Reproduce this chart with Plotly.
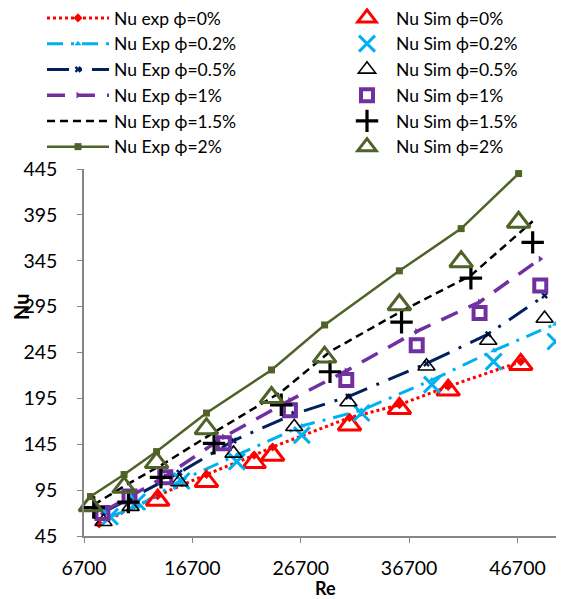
import plotly.graph_objects as go

# ---- data ----
re_0 = [8100, 13500, 18000, 22400, 24100, 31200, 35800, 40300, 47000]
nu_exp_0 = [58, 89, 112, 133, 142, 174, 188, 208, 235]
nu_sim_0 = [44.5, 84, 104.5, 125, 133, 166, 184, 204, 232]

re_02 = [9100, 11600, 15700, 20800, 26800, 32300, 38800, 44500, 50200]
nu_exp_02 = [66, 77, 106, 133, 165, 182, 215, 247, 276]
nu_sim_02 = [66, 82, 105, 126, 155, 179, 210, 235, 257]

re_05 = [8500, 11000, 15500, 20500, 26100, 31100, 38300, 44000, 49200]
nu_exp_05 = [71, 86, 114, 149, 178, 197, 233, 265, 307]
nu_sim_05 = [60.5, 77, 104, 135, 164, 191, 230, 258, 282]

re_1 = [8400, 10900, 14200, 19600, 25700, 30900, 37400, 43200, 48800]
nu_exp_1 = [71, 88, 110, 153, 193, 225, 268, 300, 347]
nu_sim_1 = [70, 88, 109, 146, 182, 215, 253, 288, 318]

re_15 = [7600, 10800, 13800, 18700, 24900, 29400, 36000, 42400, 48100]
nu_exp_15 = [79, 102, 122, 158, 202, 246, 290, 329, 388]
nu_sim_15 = [76, 82, 109, 146, 188, 224, 278, 326, 365]

re_2 = [7300, 10400, 13400, 18000, 24000, 28900, 35800, 41500, 46800]
nu_exp_2 = [88, 112, 137, 179, 226, 275, 334, 380, 440]
nu_sim_2 = [78, 98, 125, 162, 196, 240, 297, 344, 387]

x_ticks = [6700, 16700, 26700, 36700, 46700]
y_ticks = [45, 95, 145, 195, 245, 295, 345, 395, 445]

exp_names = ["Nu exp ϕ=0%", "Nu Exp ϕ=0.2%", "Nu Exp ϕ=0.5%", "Nu Exp ϕ=1%", "Nu Exp ϕ=1.5%", "Nu Exp ϕ=2%"]
sim_names = ["Nu Sim ϕ=0%", "Nu Sim ϕ=0.2%", "Nu Sim ϕ=0.5%", "Nu Sim ϕ=1%", "Nu Sim ϕ=1.5%", "Nu Sim ϕ=2%"]

RED = "#FF0000"
CYAN = "#00B0F0"
NAVY = "#002060"
PURPLE = "#7030A0"
BLACK = "#000000"
GREEN = "#4F6228"

fig = go.Figure()

exp_series = [
    (re_0, nu_exp_0, RED, "dot", "diamond", 7, 3),
    (re_02, nu_exp_02, CYAN, "16px,8px,3px,8px", "triangle-up", 6, 3),
    (re_05, nu_exp_05, NAVY, "22px,10px,3px,10px", "x", 6, 3),
    (re_1, nu_exp_1, PURPLE, "18px,12px", "triangle-right", 6, 3.5),
    (re_15, nu_exp_15, BLACK, "8px,5px", None, 0, 2.5),
    (re_2, nu_exp_2, GREEN, "solid", "square", 7, 2.5),
]
for i, (xs, ys, col, dash, sym, msz, lw) in enumerate(exp_series):
    if sym:
        fig.add_trace(go.Scatter(x=xs, y=ys, name=exp_names[i], mode="lines+markers",
                                 line=dict(color=col, width=lw, dash=dash),
                                 marker=dict(symbol=sym, size=msz, color=col),
                                 legend="legend", legendgroup="e%d" % i))
    else:
        fig.add_trace(go.Scatter(x=xs, y=ys, name=exp_names[i], mode="lines",
                                 line=dict(color=col, width=lw, dash=dash),
                                 legend="legend", legendgroup="e%d" % i))

sim_series = [
    (re_0, nu_sim_0, RED, "triangle-up-open", 20, 3),
    (re_02, nu_sim_02, CYAN, "x-thin-open", 16, 3),
    (re_05, nu_sim_05, BLACK, "triangle-up-open", 15, 1.6),
    (re_1, nu_sim_1, PURPLE, "square-open", 12, 4),
    (re_15, nu_sim_15, BLACK, "cross-thin-open", 16, 3.2),
    (re_2, nu_sim_2, GREEN, "triangle-up-open", 20, 3),
]
for i, (xs, ys, col, sym, msz, lw) in enumerate(sim_series):
    fig.add_trace(go.Scatter(x=xs, y=ys, name=sim_names[i], mode="markers",
                             marker=dict(symbol=sym, size=msz, color=col,
                                         line=dict(color=col, width=lw)),
                             cliponaxis=False,
                             legend="legend2", legendgroup="s%d" % i))

FONT = "Lato"
OFF = 8  # page body margin
W, H = 564 - OFF, 599 - OFF
ML, MR, MT, MB = 84 - OFF, 0, 169 - OFF, 63
pw, ph = W - ML - MR, H - MT - MB

def px_x(x):
    # x in page pixels -> paper
    return (x - OFF - ML) / pw

def px_y(y):
    # y in page pixels -> paper
    return (H - MB - (y - OFF)) / ph

axis_common = dict(showgrid=False, zeroline=False, showline=True, linecolor="#868686",
                   linewidth=1.5, ticks="outside", ticklen=5, tickcolor="#868686",
                   tickfont=dict(family=FONT, size=19.5, color="#000000"))

fig.update_layout(
    width=W, height=H,
    margin=dict(l=ML, r=MR, t=MT, b=MB, autoexpand=False),
    plot_bgcolor="white", paper_bgcolor="white",
    font=dict(family=FONT, size=17.5, color="#000000"),
    xaxis=dict(range=[6700, 50990], tickvals=x_ticks, ticktext=[str(v) for v in x_ticks],
               ticklabelstandoff=9, **axis_common),
    yaxis=dict(range=[45, 445], tickvals=y_ticks, ticktext=[str(v) for v in y_ticks],
               ticklabelstandoff=16, **axis_common),
    legend=dict(x=px_x(42), y=px_y(0), xanchor="left", yanchor="top", itemwidth=62,
                font=dict(family=FONT, size=17.5), tracegroupgap=0, bgcolor="rgba(0,0,0,0)"),
    legend2=dict(x=px_x(338), y=px_y(0), xanchor="left", yanchor="top", itemwidth=48,
                 font=dict(family=FONT, size=17.5), tracegroupgap=0, bgcolor="rgba(0,0,0,0)"),
    annotations=[
        dict(text="<b>Re</b>", x=px_x(325), y=px_y(587.5), xref="paper", yref="paper",
             xanchor="center", yanchor="middle",
             showarrow=False, font=dict(family=FONT, size=18)),
        dict(text="<b>Nu</b>", x=px_x(21), y=px_y(307), xref="paper", yref="paper",
             xanchor="center", yanchor="middle",
             showarrow=False, textangle=-90, font=dict(family=FONT, size=20)),
    ],
)

fig.write_html("out.html")
